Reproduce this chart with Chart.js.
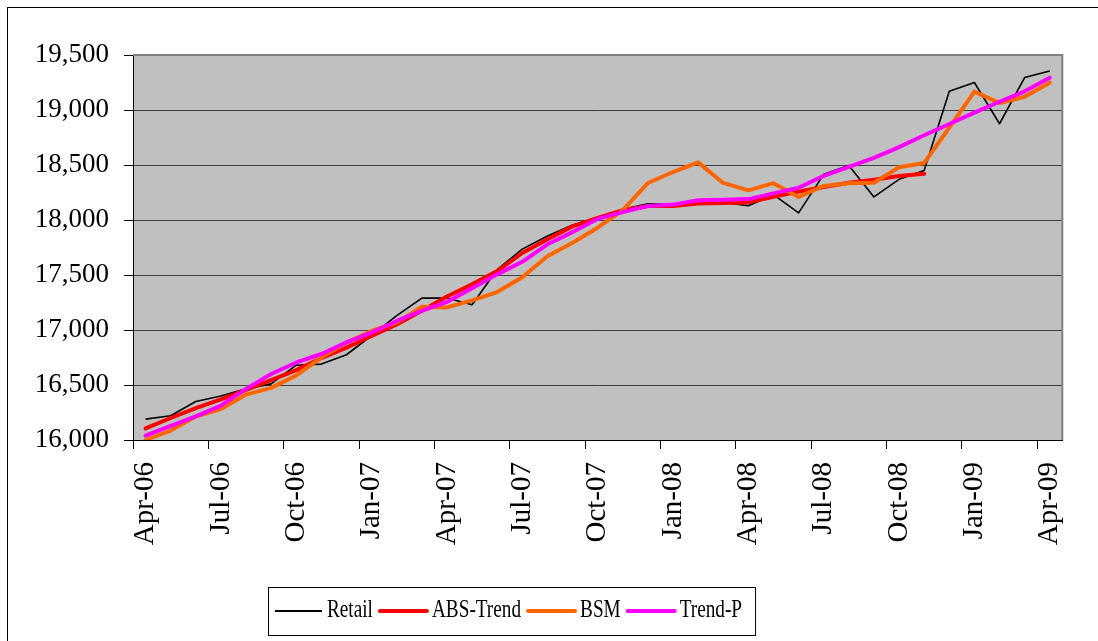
<!DOCTYPE html>
<html>
<head>
<meta charset="utf-8">
<script src="https://cdn.jsdelivr.net/npm/chart.js@4/dist/chart.umd.min.js"></script>
<style>
  html, body { margin: 0; padding: 0; background: #fff; }
  #wrap { width: 1098px; height: 641px; position: relative; }
</style>
</head>
<body>
<div id="wrap"><canvas id="c" width="1098" height="641"></canvas></div>
<script>
const months = ['Apr-06','May-06','Jun-06','Jul-06','Aug-06','Sep-06','Oct-06','Nov-06','Dec-06',
  'Jan-07','Feb-07','Mar-07','Apr-07','May-07','Jun-07','Jul-07','Aug-07','Sep-07','Oct-07','Nov-07','Dec-07',
  'Jan-08','Feb-08','Mar-08','Apr-08','May-08','Jun-08','Jul-08','Aug-08','Sep-08','Oct-08','Nov-08','Dec-08',
  'Jan-09','Feb-09','Mar-09','Apr-09'];

const retail = [16190,16220,16350,16400,16465,16510,16680,16690,16775,16950,17130,17290,17290,17230,
  17550,17735,17855,17955,18020,18097,18148,18140,18150,18160,18130,18230,18065,18415,18495,18210,
  18370,18450,19170,19250,18875,19295,19355];

const absTrend = [16105,16200,16290,16370,16455,16545,16635,16745,16840,16945,17050,17175,17305,17415,
  17536,17700,17824,17942,18020,18090,18127,18127,18150,18155,18160,18212,18258,18300,18338,18365,
  18400,18420,null,null,null,null,null];

const bsm = [16000,16086,16214,16281,16413,16474,16587,16750,16885,16991,17067,17212,17205,17270,
  17345,17480,17670,17794,17930,18090,18336,18436,18524,18337,18270,18335,18210,18310,18335,18338,
  18480,18518,18840,19167,19064,19120,19248];

const trendP = [16040,16128,16214,16312,16465,16600,16705,16782,16888,16976,17082,17173,17255,17380,
  17506,17620,17779,17890,18010,18072,18127,18140,18180,18184,18190,18242,18293,18402,18484,18565,
  18662,18770,18873,18976,19075,19170,19294];

const yMin = 16000, yMax = 19500, yStep = 500;
const seriesNames = ['Retail','ABS-Trend','BSM','Trend-P'];
const seriesColors = ['#000000','#FF0000','#FF6600','#FF00FF'];
const seriesWidths = [1.6,4,4,4];

const serif = "'Liberation Serif', 'Times New Roman', serif";

const bgPlugin = {
  id: 'bg',
  beforeDraw(chart) {
    const {ctx, chartArea: a} = chart;
    ctx.save();
    ctx.fillStyle = '#C0C0C0';
    ctx.fillRect(a.left, a.top, a.right - a.left, a.bottom - a.top);
    ctx.strokeStyle = '#000';
    ctx.lineWidth = 1;
    ctx.strokeRect(7.5, 7.5, 1300, 800);
    ctx.restore();
  },
  afterDraw(chart) {
    const {ctx, chartArea: a} = chart;
    ctx.save();
    ctx.strokeStyle = '#808080';
    ctx.lineWidth = 2;
    ctx.beginPath();
    ctx.moveTo(a.left, a.top);
    ctx.lineTo(a.right, a.top);
    ctx.lineTo(a.right, a.bottom);
    ctx.stroke();
    // legend
    const lx = 268, ly = 587, lh = 48;
    const sx = 0.74;
    ctx.font = '26px ' + serif;
    ctx.textBaseline = 'alphabetic';
    let x = lx + 7;
    const lineY = ly + 24;
    const items = [];
    seriesNames.forEach((name, i) => {
      const w = ctx.measureText(name).width * sx;
      items.push({name, i, x, w});
      x += 47 + 5 + w + 7;
    });
    const rightEdge = x + 6;
    ctx.fillStyle = '#fff';
    ctx.fillRect(lx, ly, rightEdge - lx, lh);
    ctx.strokeStyle = '#000';
    ctx.lineWidth = 1;
    ctx.strokeRect(lx + 0.5, ly + 0.5, rightEdge - lx, lh);
    items.forEach(it => {
      ctx.strokeStyle = seriesColors[it.i];
      ctx.lineWidth = seriesWidths[it.i] === 4 ? 4 : 2;
      ctx.lineCap = it.i === 0 ? 'butt' : 'round';
      ctx.beginPath();
      ctx.moveTo(it.x, lineY);
      ctx.lineTo(it.x + 47, lineY);
      ctx.stroke();
      ctx.save();
      ctx.translate(it.x + 52, ly + 30);
      ctx.scale(sx, 1);
      ctx.fillStyle = '#000';
      ctx.fillText(it.name, 0, 0);
      ctx.restore();
    });
    ctx.restore();
  }
};

const dataArrays = [retail, absTrend, bsm, trendP];

new Chart(document.getElementById('c'), {
  type: 'line',
  data: {
    labels: months,
    datasets: dataArrays.map((d, i) => ({
      label: seriesNames[i],
      data: d,
      borderColor: seriesColors[i],
      backgroundColor: seriesColors[i],
      borderWidth: seriesWidths[i],
      pointRadius: 0,
      pointHoverRadius: 0,
      tension: 0,
      fill: false,
      borderJoinStyle: 'round',
      borderCapStyle: i === 0 ? 'butt' : 'round',
      order: 4 - i
    }))
  },
  options: {
    responsive: false,
    animation: false,
    events: [],
    layout: { padding: { left: 0, top: 55, right: 33, bottom: 0 } },
    plugins: {
      legend: { display: false },
      tooltip: { enabled: false },
      title: { display: false }
    },
    scales: {
      x: {
        type: 'category',
        offset: true,
        afterFit(s) { s.height = 201; },
        border: { color: '#000', width: 1 },
        grid: {
          offset: true,
          drawOnChartArea: false,
          drawTicks: true,
          tickLength: 9,
          tickColor: (c) => (c.index !== undefined && c.index % 3 === 0) ? '#000' : 'rgba(0,0,0,0)'
        },
        ticks: {
          autoSkip: false,
          maxRotation: 90,
          minRotation: 90,
          padding: 13,
          color: '#000',
          font: { family: serif, size: 29 },
          callback: (v, i) => i % 3 === 0 ? months[i] : ''
        }
      },
      y: {
        min: yMin,
        max: yMax,
        afterFit(s) { s.width = 133; },
        border: { color: '#000', width: 1 },
        grid: {
          color: '#404040',
          lineWidth: 1,
          tickColor: '#000',
          tickLength: 9
        },
        ticks: {
          stepSize: yStep,
          padding: 15,
          color: '#000',
          font: { family: serif, size: 27 },
          callback: (v) => v.toLocaleString('en-US')
        }
      }
    }
  },
  plugins: [bgPlugin]
});
</script>
</body>
</html>
